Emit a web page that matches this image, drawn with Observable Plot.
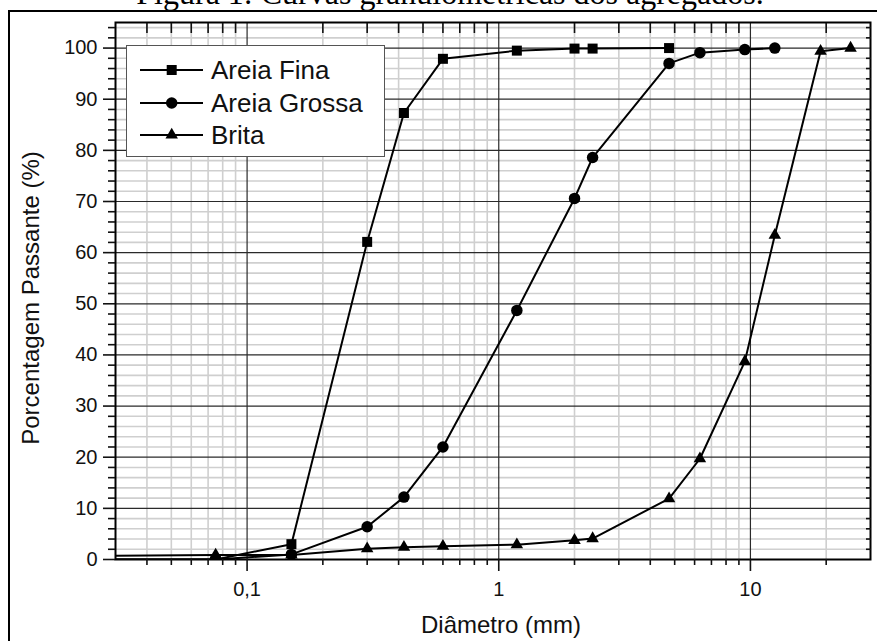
<!DOCTYPE html>
<html>
<head>
<meta charset="utf-8">
<script src="https://cdn.jsdelivr.net/npm/d3@7"></script>
<script src="https://cdn.jsdelivr.net/npm/@observablehq/plot@0.6"></script>
<style>
  html, body { margin: 0; padding: 0; background: #fff; }
  body { position: relative; width: 877px; height: 641px; overflow: hidden; font-family: "Liberation Sans", Arial, sans-serif; }
  #title { position: absolute; left: 0; top: -23px; width: 900px; text-align: center; font: 32px/32px "Liberation Serif", "Times New Roman", serif; white-space: nowrap; color: #000; }
  #outer { position: absolute; left: 8px; top: 10px; width: 900px; height: 700px; border: 2px solid #000; }
  #chart { position: absolute; left: 0; top: 0; }
  #legend { position: absolute; left: 126px; top: 45px; width: 257px; height: 110px; border: 1.5px solid #555; background: #fff; }
  .item { position: absolute; left: 0; height: 30px; width: 257px; }
  .item svg { position: absolute; left: 0; top: 0; }
  .item span { position: absolute; left: 84px; top: 0; line-height: 30px; font-size: 26px; color: #111; white-space: nowrap; }
</style>
</head>
<body>
<div id="title">Figura 1: Curvas granulométricas dos agregados.</div>
<div id="outer"></div>
<div id="chart"></div>
<div id="legend"></div>
<script>
// ---- data ----
const seriesNames = ["Areia Fina", "Areia Grossa", "Brita"];

const fineDiam   = [0.01, 0.075, 0.15, 0.3, 0.42, 0.6, 1.18, 2.0, 2.36, 4.75];
const finePass   = [0, 0, 3.0, 62.1, 87.3, 97.9, 99.5, 99.9, 99.9, 100];

const coarseDiam = [0.01, 0.075, 0.15, 0.3, 0.42, 0.6, 1.18, 2.0, 2.36, 4.75, 6.3, 9.5, 12.5];
const coarsePass = [0, 0, 1.0, 6.4, 12.2, 22.0, 48.7, 70.6, 78.6, 97.0, 99.1, 99.7, 100];

const britaDiam  = [0.01, 0.075, 0.15, 0.3, 0.42, 0.6, 1.18, 2.0, 2.36, 4.75, 6.3, 9.5, 12.5, 19, 25];
const britaPass  = [0.5, 0.9, 0.9, 2.1, 2.4, 2.6, 2.9, 3.75, 4.1, 11.9, 19.7, 38.7, 63.4, 99.4, 100];

const xMajorTicks = [0.1, 1, 10];
const xTickLabels = ["0,1", "1", "10"];
const xMinorTicks = [0.04, 0.05, 0.06, 0.07, 0.08, 0.09, 0.2, 0.3, 0.4, 0.5, 0.6, 0.7, 0.8, 0.9,
                     2, 3, 4, 5, 6, 7, 8, 9, 20];
const yMajorTicks = [0, 10, 20, 30, 40, 50, 60, 70, 80, 90, 100];
const yMinorTicks = [2, 4, 6, 8, 12, 14, 16, 18, 22, 24, 26, 28, 32, 34, 36, 38, 42, 44, 46, 48,
                     52, 54, 56, 58, 62, 64, 66, 68, 72, 74, 76, 78, 82, 84, 86, 88, 92, 94, 96, 98, 102, 104];
const xTitle = "Diâmetro (mm)";
const yTitle = "Porcentagem Passante (%)";

// ---- tables built from the arrays ----
const toRows = (D, P) => D.map((d, i) => ({d, p: P[i]}));
const fine = toRows(fineDiam, finePass);
const coarse = toRows(coarseDiam, coarsePass);
const brita = toRows(britaDiam, britaPass);

const symbols = ["square", "circle", "triangle"];
const radii = [5.64, 5.75, 4.64];
const tables = [fine, coarse, brita];

const lineMarks = tables.map(t => Plot.line(t, {x: "d", y: "p", stroke: "#000", strokeWidth: 2, clip: true}));
const dotMarks = tables.map((t, i) => Plot.dot(t, {x: "d", y: "p", symbol: symbols[i], r: radii[i], fill: "#000", stroke: "none", clip: true}));

const chart = Plot.plot({
  width: 877,
  height: 641,
  marginTop: 22,
  marginRight: 7,
  marginBottom: 82,
  marginLeft: 115,
  style: {fontFamily: "'Liberation Sans', Arial, sans-serif", background: "transparent", color: "#111", overflow: "visible"},
  x: {type: "log", domain: [0.03, 30], label: null},
  y: {domain: [0, 105], label: null},
  marks: [
    Plot.ruleX(xMinorTicks, {stroke: "#cfcfcf", strokeWidth: 1.6}),
    Plot.ruleY(yMinorTicks, {stroke: "#cfcfcf", strokeWidth: 1.6}),
    Plot.ruleX(xMajorTicks, {stroke: "#2a2a2a", strokeWidth: 1.2}),
    Plot.ruleY(yMajorTicks.filter(v => v > 0), {stroke: "#2a2a2a", strokeWidth: 1.2}),
    ...lineMarks,
    ...dotMarks,
    Plot.frame({stroke: "#000", strokeWidth: 2}),
    Plot.axisX({ticks: xMajorTicks, tickSize: 12, tickPadding: 10, strokeWidth: 1.6, fontSize: 20,
                tickFormat: d => xTickLabels[xMajorTicks.indexOf(d)], label: null}),
    Plot.axisX({ticks: xMinorTicks, tickSize: 6, strokeWidth: 1.6, tickFormat: () => "", label: null}),
    Plot.axisX({anchor: "top", ticks: xMinorTicks, tickSize: -10, strokeWidth: 1.6, tickFormat: () => "", label: null}),
    Plot.axisY({ticks: yMajorTicks, tickSize: 12, tickPadding: 6, strokeWidth: 1.6, fontSize: 20, label: null}),
    Plot.axisY({ticks: yMinorTicks, tickSize: 7, strokeWidth: 1.6, tickFormat: () => "", label: null}),
    Plot.axisY({anchor: "right", ticks: yMinorTicks, tickSize: -5, strokeWidth: 1.6, tickFormat: () => "", label: null}),
    Plot.text([xTitle], {frameAnchor: "bottom", textAnchor: "middle", lineAnchor: "middle", dx: 8, dy: 66, fontSize: 24, fill: "#111"}),
    Plot.text([yTitle], {frameAnchor: "left", textAnchor: "middle", lineAnchor: "middle", rotate: -90, dx: -84, dy: 7, fontSize: 24, fill: "#111"})
  ]
});
document.getElementById("chart").appendChild(chart);

// ---- legend ----
const legend = document.getElementById("legend");
const symbolFns = [d3.symbolSquare, d3.symbolCircle, d3.symbolTriangle];
const symbolSizes = radii.map(r => Math.PI * r * r);
const rowCenters = [24.3, 56.7, 89.3];
seriesNames.forEach((name, i) => {
  const item = document.createElement("div");
  item.className = "item";
  item.style.top = (rowCenters[i] - 15) + "px";
  const path = d3.symbol(symbolFns[i], symbolSizes[i])();
  item.innerHTML = `<svg width="80" height="30"><line x1="13" x2="76" y1="15" y2="15" stroke="#000" stroke-width="2.2"/>` +
    `<path d="${path}" transform="translate(44.7,15)" fill="#000"/></svg><span>${name}</span>`;
  legend.appendChild(item);
});
</script>
</body>
</html>
